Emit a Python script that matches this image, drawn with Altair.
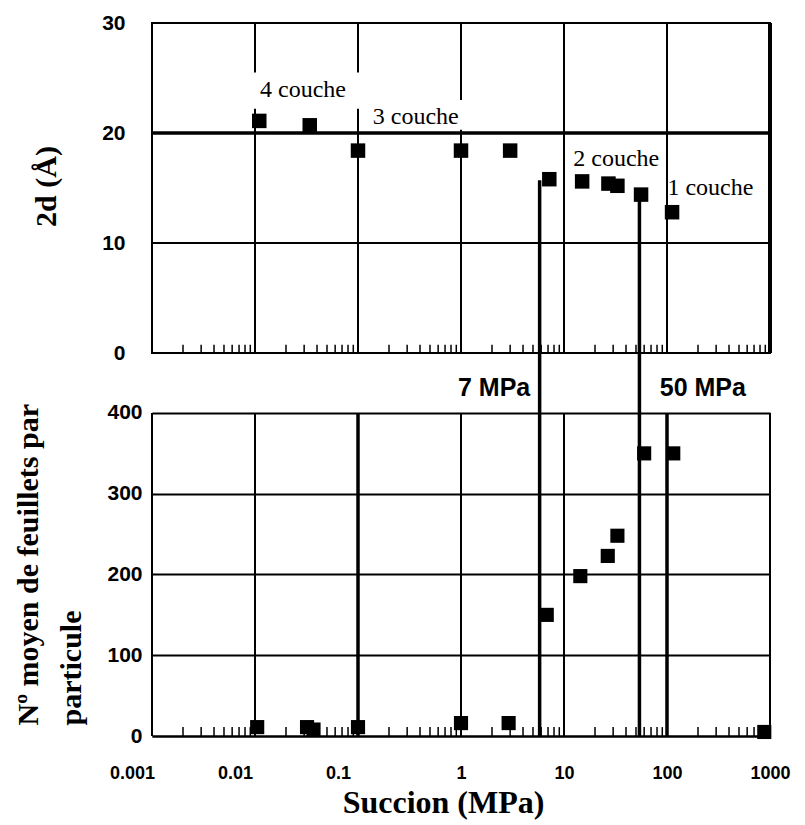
import altair as alt
import pandas as pd

# ---------------- data ----------------
# top panel: basal spacing 2d (Å) vs suction (MPa)
top_x = [0.011, 0.034, 0.1, 1.0, 3.0, 7.2, 15.0, 27.0, 33.0, 56.0, 112.0]
top_y = [21.1, 20.7, 18.4, 18.4, 18.4, 15.8, 15.6, 15.4, 15.2, 14.4, 12.8]

# bottom panel: mean number of layers per particle vs suction (MPa)
bot_x = [0.0105, 0.032, 0.037, 0.1, 1.0, 2.9, 6.8, 14.4, 26.6, 33.0, 60.0, 115.0, 880.0]
bot_y = [11, 11, 8, 11, 16, 16, 150, 198, 223, 248, 350, 350, 5]

# transition lines (7 MPa, 50 MPa) and their starting value in the top panel
trans_x = [5.8, 54.0]
trans_top_y = [15.7, 14.4]
trans_labels = ["7 MPa", "50 MPa"]
trans_label_x = [4.7, 85.0]
trans_label_align = ["right", "left"]

# hydration-state annotations (top panel)
couche_text = ["4 couche", "3 couche", "2 couche", "1 couche"]
couche_x = [0.0112, 0.139, 12.3, 101.0]
couche_y = [23.9, 21.5, 17.6, 15.0]

# white label boxes that interrupt the gridlines behind the annotations
box_x1 = [0.0095, 0.13]
box_x2 = [0.125, 1.4]
box_y1 = [22.2, 20.3]
box_y2 = [25.5, 23.0]

# axes
x_ticks = [0.001, 0.01, 0.1, 1, 10, 100, 1000]
decades_inner = [0.01, 0.1, 1, 10, 100]
top_y_ticks = [0, 10, 20, 30]
bot_y_ticks = [0, 100, 200, 300, 400]
top_grid_w = [2, 2, 2, 2, 2]
bot_grid_w = [2, 3.5, 2, 2, 3.5]
minor_ticks = [m * 10.0 ** e for e in range(-3, 3) for m in range(2, 10)]

BOT_TOP = 474.3  # bottom panel domain includes the gap above 400

xs = alt.Scale(type="log", domain=[0.001, 1000], nice=False)
ys_top = alt.Scale(domain=[0, 30], nice=False, zero=False)
ys_bot = alt.Scale(domain=[0, BOT_TOP], nice=False, zero=False)

W = 618
H_TOP = 330
H_BOT = 383

SANS = "Liberation Sans"
SERIF = "Liberation Serif"

# ---------------- top panel ----------------
top_df = pd.DataFrame({"x": top_x, "y": top_y})
vgrid_top = pd.DataFrame({"x": decades_inner, "w": top_grid_w})
hgrid_top = pd.DataFrame({"y": [10, 20], "w": [2, 3.5]})
trans_top = pd.DataFrame({"x": trans_x, "y": trans_top_y})
minor_df = pd.DataFrame({"x": minor_ticks})
couche_df = pd.DataFrame({"x": couche_x, "y": couche_y, "t": couche_text})
box_df = pd.DataFrame({"x": box_x1, "x2": box_x2, "y": box_y1, "y2": box_y2})

top_axis = alt.Axis(
    values=top_y_ticks, grid=False, domain=False, ticks=False,
    labelFont=SANS, labelFontWeight="bold", labelFontSize=21, labelPadding=27,
    labelColor="black",
    title="2d (Å)", titleFont=SERIF, titleFontSize=30, titleFontWeight="bold",
    titleColor="black", titleAngle=-90, titleX=-106, titleY=163,
    titleAlign="center", titleBaseline="middle",
)

t_vgrid = alt.Chart(vgrid_top).mark_rule(color="black").encode(
    x=alt.X("x:Q", scale=xs, axis=None),
    y=alt.Y(datum=0, scale=ys_top, axis=top_axis),
    y2=alt.datum(30),
    strokeWidth=alt.StrokeWidth("w:Q", scale=None, legend=None),
)
t_box = alt.Chart(box_df).mark_rect(color="white", opacity=1).encode(
    x=alt.X("x:Q", scale=xs), x2="x2:Q",
    y=alt.Y("y:Q", scale=ys_top), y2="y2:Q",
)
t_hgrid = alt.Chart(hgrid_top).mark_rule(color="black").encode(
    y=alt.Y("y:Q", scale=ys_top),
    x=alt.X(datum=0.001, scale=xs),
    x2=alt.datum(1000),
    strokeWidth=alt.StrokeWidth("w:Q", scale=None, legend=None),
)
t_right = alt.Chart(pd.DataFrame({"x": [1000]})).mark_rule(color="black", strokeWidth=4).encode(
    x=alt.X("x:Q", scale=xs), y=alt.datum(0), y2=alt.datum(30)
)
t_minor = alt.Chart(minor_df).mark_rule(color="black", strokeWidth=1.5).encode(
    x=alt.X("x:Q", scale=xs), y=alt.datum(0), y2=alt.datum(0.75)
)
t_trans = alt.Chart(trans_top).mark_rule(color="black", strokeWidth=3.5).encode(
    x=alt.X("x:Q", scale=xs), y=alt.Y("y:Q", scale=ys_top), y2=alt.datum(0)
)
t_pts = alt.Chart(top_df).mark_point(shape="square", filled=True, color="black", size=210, opacity=1).encode(
    x=alt.X("x:Q", scale=xs), y=alt.Y("y:Q", scale=ys_top)
)
t_text = alt.Chart(couche_df).mark_text(
    font=SERIF, fontSize=24, color="black", align="left", baseline="middle"
).encode(x=alt.X("x:Q", scale=xs), y=alt.Y("y:Q", scale=ys_top), text="t:N")

top = alt.layer(t_vgrid, t_box, t_hgrid, t_minor, t_trans, t_right, t_pts, t_text).properties(
    width=W, height=H_TOP,
    view=alt.ViewBackground(stroke="black", strokeWidth=2),
)

# ---------------- bottom panel ----------------
bot_df = pd.DataFrame({"x": bot_x, "y": bot_y})
vgrid_bot = pd.DataFrame({"x": decades_inner, "w": bot_grid_w})
borders_bot = pd.DataFrame({"x": [0.001, 1000]})
trans_bot = pd.DataFrame({"x": trans_x})
lab_df = pd.DataFrame({"x": trans_label_x, "t": trans_labels, "a": trans_label_align})

bot_y_axis = alt.Axis(
    values=bot_y_ticks, grid=True, gridColor="black", gridWidth=2, gridOpacity=1,
    domain=False, ticks=False,
    labelFont=SANS, labelFontWeight="bold", labelFontSize=21, labelPadding=10,
    labelColor="black",
    title=["Nº moyen de feuillets par", "particule"], titleFont=SERIF,
    titleFontSize=30, titleFontWeight="bold", titleColor="black",
    titleAngle=-90, titleX=-115, titleY=372, titleAlign="left",
    titleBaseline="alphabetic", titleLineHeight=43,
)
bot_x_axis = alt.Axis(
    values=x_ticks, format="~g", grid=False, domain=True, domainColor="black",
    domainWidth=2, ticks=False,
    labelFont=SANS, labelFontWeight="bold", labelFontSize=18, labelPadding=28,
    labelColor="black", labelFlush=False,
    labelOffset={"condition": {"test": "datum.value < 0.5", "value": -20}, "value": 0},
    title="Succion (MPa)", titleFont=SERIF, titleFontSize=32, titleFontWeight="bold",
    titleColor="black", titleX=291, titleY=66, titleAlign="center",
    titleBaseline="middle",
)

b_vgrid = alt.Chart(vgrid_bot).mark_rule(color="black").encode(
    x=alt.X("x:Q", scale=xs, axis=bot_x_axis),
    y=alt.Y(datum=0, scale=ys_bot, axis=bot_y_axis),
    y2=alt.datum(400),
    strokeWidth=alt.StrokeWidth("w:Q", scale=None, legend=None),
)
b_border = alt.Chart(borders_bot).mark_rule(color="black", strokeWidth=2).encode(
    x=alt.X("x:Q", scale=xs), y=alt.datum(0), y2=alt.datum(400)
)
b_minor = alt.Chart(minor_df).mark_rule(color="black", strokeWidth=1.5).encode(
    x=alt.X("x:Q", scale=xs), y=alt.datum(0), y2=alt.datum(11)
)
b_trans = alt.Chart(trans_bot).mark_rule(color="black", strokeWidth=3.5).encode(
    x=alt.X("x:Q", scale=xs), y=alt.datum(0), y2=alt.datum(BOT_TOP)
)
b_pts = alt.Chart(bot_df).mark_point(shape="square", filled=True, color="black", size=200, opacity=1).encode(
    x=alt.X("x:Q", scale=xs), y=alt.Y("y:Q", scale=ys_bot)
)
b_lab_r = alt.Chart(lab_df[lab_df.a == "right"]).mark_text(
    font=SANS, fontWeight="bold", fontSize=25, color="black", align="right", baseline="middle"
).encode(x=alt.X("x:Q", scale=xs), y=alt.datum(431), text="t:N")
b_lab_l = alt.Chart(lab_df[lab_df.a == "left"]).mark_text(
    font=SANS, fontWeight="bold", fontSize=25, color="black", align="left", baseline="middle"
).encode(x=alt.X("x:Q", scale=xs), y=alt.datum(431), text="t:N")

bottom = alt.layer(b_vgrid, b_border, b_minor, b_trans, b_pts, b_lab_r, b_lab_l).properties(
    width=W, height=H_BOT,
    view=alt.ViewBackground(stroke="transparent"),
)

chart = alt.vconcat(top, bottom, spacing=0, bounds="flush").properties(
    background="white",
    padding={"left": 4, "top": 3, "right": 5, "bottom": 5},
)

chart.save("out.html", embed_options={"renderer": "svg", "actions": False})
